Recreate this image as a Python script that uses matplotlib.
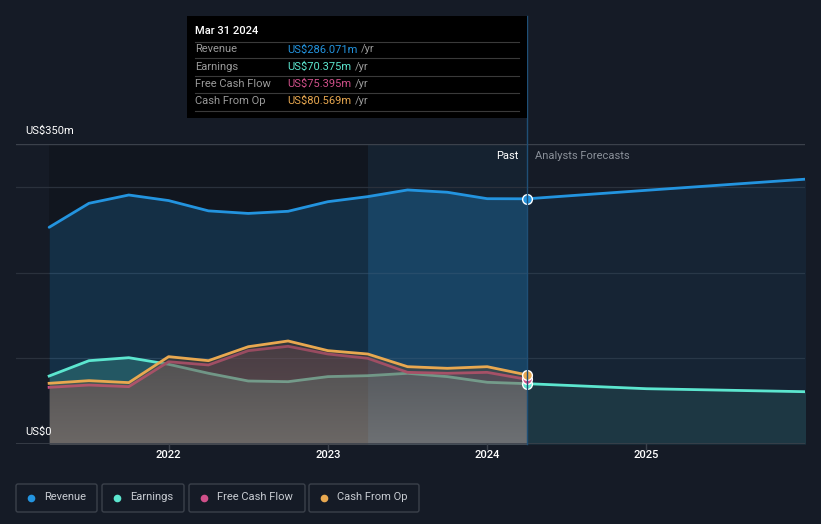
import matplotlib
matplotlib.use("Agg")
import matplotlib.pyplot as plt
from matplotlib.patches import FancyBboxPatch, Rectangle
import numpy as np

plt.rcParams['font.family'] = ['Roboto', 'DejaVu Sans']

# ---------------- data ----------------
past_t = [2021.25, 2021.5, 2021.75, 2022.0, 2022.25, 2022.5, 2022.75,
          2023.0, 2023.25, 2023.5, 2023.75, 2024.0, 2024.25]
revenue_past = [252.8, 280.8, 290.5, 284.0, 272.0, 269.0, 271.5, 282.7, 288.6, 296.4, 293.7, 286.2, 286.071]
earnings_past = [79.3, 97.2, 100.7, 93.0, 82.5, 73.5, 72.7, 78.6, 79.7, 82.5, 78.6, 72.0, 70.375]
fcf_past = [66.1, 68.8, 66.9, 96.0, 92.2, 108.9, 114.0, 105.0, 100.0, 83.6, 82.5, 83.6, 75.395]
cfo_past = [70.8, 73.9, 71.6, 101.9, 97.2, 113.5, 120.2, 108.9, 105.0, 90.2, 88.3, 90.2, 80.569]

forecast_t = [2024.25, 2025.0, 2026.0]
revenue_fc = [286.071, 296.0, 309.0]
earnings_fc = [70.375, 64.5, 61.0]

year_ticks = [2022, 2023, 2024, 2025]
y_labels = ["US$0", "US$350m"]
legend_names = ["Revenue", "Earnings", "Free Cash Flow", "Cash From Op"]
tooltip_date = "Mar 31 2024"
tooltip_vals = ["US$286.071m", "US$70.375m", "US$75.395m", "US$80.569m"]

# ---------------- style ----------------
BG = "#151b26"
C_REV = "#2394df"
C_EARN = "#5ce6cf"
C_FCF = "#d0508a"
C_CFO = "#e8a850"
colors = [C_REV, C_EARN, C_FCF, C_CFO]

W, H = 821, 524
fig = plt.figure(figsize=(W / 100, H / 100), dpi=100, facecolor=BG)

L, R, T, B = 16, 805, 144, 444
X0, X1 = 2021.042, 2025.995
ax = fig.add_axes([L / W, 1 - B / H, (R - L) / W, (B - T) / H])
ax.set_facecolor(BG)
ax.set_xlim(X0, X1)
ax.set_ylim(0, 350)
for s in ax.spines.values():
    s.set_visible(False)
ax.set_xticks([])
ax.set_yticks([])

now = past_t[-1]
# dark past region and highlighted last year
ax.axvspan(past_t[0], 2023.25, color="#0c0f14", alpha=0.35, lw=0, zorder=0)
ax.axvspan(2023.25, now, color="#2394df", alpha=0.06, lw=0, zorder=0)

# gridlines
for gy in [100, 200, 300]:
    ax.axhline(gy, color="#2a313c", lw=0.9, zorder=0.5)
ax.axhline(350, color="#3b414b", lw=1.0, zorder=0.5)
ax.axhline(0, color="#3b414b", lw=1.2, zorder=6)

# revenue
ax.fill_between(past_t, revenue_past, 0, color=C_REV, alpha=0.2, lw=0, zorder=1)
ax.fill_between(past_t[8:], revenue_past[8:], 0, color=C_REV, alpha=0.12, lw=0, zorder=1)
ax.fill_between(forecast_t, revenue_fc, 0, color=C_REV, alpha=0.08, lw=0, zorder=1)
ax.plot(past_t, revenue_past, color=C_REV, lw=2.0, solid_capstyle="round", solid_joinstyle="round", zorder=2)
ax.plot(forecast_t, revenue_fc, color=C_REV, lw=2.0, solid_capstyle="round", zorder=2)

# earnings
ax.fill_between(past_t, earnings_past, 0, color=C_EARN, alpha=0.22, lw=0, zorder=2.1)
ax.fill_between(forecast_t, earnings_fc, 0, color=C_EARN, alpha=0.1, lw=0, zorder=2.1)
ax.plot(past_t, earnings_past, color=C_EARN, lw=2.0, solid_joinstyle="round", zorder=2.2)
ax.plot(forecast_t, earnings_fc, color=C_EARN, lw=2.0, zorder=2.2)

# free cash flow
ax.fill_between(past_t, fcf_past, 0, color=C_FCF, alpha=0.22, lw=0, zorder=2.3)
ax.plot(past_t, fcf_past, color=C_FCF, lw=2.0, solid_joinstyle="round", zorder=2.4)

# cash from op
cfo_fill = ax.fill_between(past_t, cfo_past, 0, color=C_CFO, alpha=0.22, lw=0, zorder=2.5)
ax.plot(past_t, cfo_past, color=C_CFO, lw=2.0, solid_joinstyle="round", zorder=2.6)

# soft darkening toward the baseline inside the lower fills
grad = np.zeros((256, 2, 4))
grad[..., :3] = np.array([0.08, 0.1, 0.14])
grad[..., 3] = np.linspace(0.0, 0.35, 256)[:, None]
im = ax.imshow(grad, extent=[past_t[0], now, 120, 0], aspect="auto", zorder=2.55,
               interpolation="bilinear")
im.set_clip_path(cfo_fill.get_paths()[0], transform=ax.transData)
ax.set_xlim(X0, X1)
ax.set_ylim(0, 350)

# markers at the present
for val, c, z in [(revenue_past[-1], C_REV, 5), (earnings_past[-1], C_EARN, 5),
                  (fcf_past[-1], C_FCF, 5.1), (cfo_past[-1], C_CFO, 5.2)]:
    ax.plot([now], [val], "o", ms=7, color=c, mec="white", mew=1.0, zorder=z, clip_on=False)

# x tick labels
for yr in year_ticks:
    ax.text(yr, -13, str(yr), color="white", fontsize=8, fontweight="medium",
            ha="center", va="center", transform=ax.transData, clip_on=False)
    ax.plot([yr, yr], [0, -6], color="#3b414b", lw=1, clip_on=False, zorder=6)

# ---------------- overlay in pixel coordinates ----------------
ov = fig.add_axes([0, 0, 1, 1], facecolor="none")
ov.set_xlim(0, W)
ov.set_ylim(H, 0)
ov.axis("off")

# vertical "now" line
x_now = L + (now - X0) / (X1 - X0) * (R - L)
ov.plot([x_now, x_now], [16, B], color="#1f4f76", lw=1.0, zorder=1)

ov.text(25, 131, y_labels[1], color="white", fontsize=8, va="center", ha="left")
ov.text(25, 432, y_labels[0], color="white", fontsize=8, va="center", ha="left")
ov.text(x_now - 9, 156, "Past", color="white", fontsize=8, va="center", ha="right")
ov.text(x_now + 8, 156, "Analysts Forecasts", color="#8a9099", fontsize=8, va="center", ha="left")

# tooltip
ov.add_patch(Rectangle((187, 16), 340, 102, facecolor="black", edgecolor="none", zorder=3))
ov.text(195, 31.5, tooltip_date, color="white", fontsize=8, fontweight="medium", va="center", ha="left", zorder=4)
row_y = [49.5, 66.5, 84, 101]
for yl in [41.7, 58.3, 76, 93.3, 111]:
    ov.plot([195, 519], [yl, yl], color="#3a3a3a", lw=0.8, zorder=4)
fig.canvas.draw()
inv = ov.transData.inverted()
for name, val, c, yy in zip(legend_names, tooltip_vals, colors, row_y):
    ov.text(195, yy, name, color="#9a9a9a", fontsize=8, va="center", ha="left", zorder=4)
    t = ov.text(287, yy, val, color=c, fontsize=8, va="center", ha="left", zorder=4)
    bb = t.get_window_extent(renderer=fig.canvas.get_renderer())
    x_end = inv.transform((bb.x1, bb.y0))[0]
    ov.text(x_end + 3.5, yy, "/yr", color="#9a9a9a", fontsize=8, va="center", ha="left", zorder=4)

# legend
boxes = [(16, 97), (102, 184), (189, 305), (309, 419)]
for (x0, x1), name, c in zip(boxes, legend_names, colors):
    ov.add_patch(FancyBboxPatch((x0, 484), x1 - x0, 28, boxstyle="round,pad=0,rounding_size=2",
                                facecolor="none", edgecolor="#3b414b", lw=1.0))
    ov.plot([x0 + 15], [498], "o", ms=5.5, color=c, mec="none")
    ov.text(x0 + 28, 497.5, name, color="#c8ccd2", fontsize=8, va="center", ha="left")

fig.savefig("out.png", dpi=100, facecolor=BG)
